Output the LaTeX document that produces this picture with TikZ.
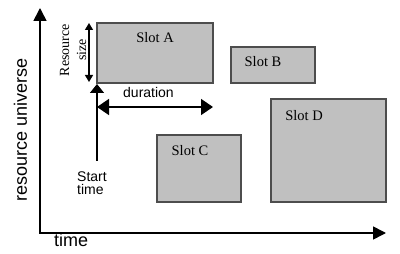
\documentclass[tikz,border=0pt]{standalone}
\usepackage{fontspec}
\setmainfont{Liberation Serif}
\setsansfont{Liberation Sans}
\usepackage{tikz}
\usetikzlibrary{arrows.meta,calc}
\definecolor{slotfill}{HTML}{C0C0C0}
\definecolor{slotedge}{HTML}{4D4D4D}
\definecolor{inkmain}{HTML}{000000}
\tikzset{every node/.append style={font=\rmfamily}}

\begin{document}
\begin{tikzpicture}[x=1pt,y=-1pt,>={Triangle[length=13pt,width=13pt]}]
  \useasboundingbox (0,0) rectangle (400,254);
  \tikzset{
    slot/.style={draw=slotedge,fill=slotfill,line width=1.2pt,inner sep=0pt,
                 outer sep=0pt,anchor=north west},
    slotlabel/.style={anchor=base,font=\rmfamily\fontsize{14.5}{16}\selectfont},
    sanslabel/.style={font=\sffamily\fontsize{14}{13}\selectfont,inner sep=0pt}
  }
  % axes
  \coordinate (O) at (40,233);
  \coordinate (Ytip) at (40,8);
  \coordinate (Xtip) at (386,233);
  \draw[<->,inkmain,line width=1.6pt] (Ytip) -- (O) -- (Xtip);
  \node[sanslabel,font=\sffamily\fontsize{18}{18}\selectfont,rotate=90,anchor=base]
    (yname) at (27,130) {resource universe};
  \node[sanslabel,font=\sffamily\fontsize{18}{18}\selectfont,anchor=base west]
    (xname) at (54,247) {time};
  % slots
  \node[slot,minimum width=116pt,minimum height=60pt] (slotA) at (97,23) {};
  \node[slot,minimum width=84pt,minimum height=36pt] (slotB) at (231,47) {};
  \node[slot,minimum width=84pt,minimum height=67pt] (slotC) at (157,135) {};
  \node[slot,minimum width=115pt,minimum height=103pt] (slotD) at (271,99) {};
  \node[slotlabel] (labA) at (155,43) {Slot A};
  \node[slotlabel] (labB) at (263,67) {Slot B};
  \node[slotlabel] (labC) at (190,156) {Slot C};
  \node[slotlabel] (labD) at (304,121) {Slot D};
  % resource size
  \coordinate (rsTop) at ($(slotA.north west)+(-8,0)$);
  \coordinate (rsBot) at ($(slotA.south west)+(-8,-1)$);
  \draw[{Triangle[length=7pt,width=8pt]}-{Triangle[length=7pt,width=8pt]},
        line width=1.3pt] (rsTop) -- (rsBot);
  \node[rotate=90,anchor=base,align=center,inner sep=0pt,
        font=\rmfamily\fontsize{14}{17}\selectfont] (rsize) at (86,50) {Resource\\size};
  % start time and duration
  \coordinate (stTop) at ($(slotA.south west)+(0,1)$);
  \coordinate (stBot) at (97,161);
  \draw[{Triangle[length=9pt,width=14pt]}-,line width=1.5pt] (stTop) -- (stBot);
  \node[sanslabel,align=left,anchor=base west] (start) at (77,195) {Start\\time};
  \coordinate (duL) at (97,107);
  \coordinate (duR) at (213,107);
  \draw[{Triangle[length=12pt,width=16pt]}-{Triangle[length=12pt,width=16pt]},
        line width=1.5pt] (duL) -- (duR);
  \node[sanslabel,anchor=base west] (dur) at (123,98) {duration};
\end{tikzpicture}
\end{document}
